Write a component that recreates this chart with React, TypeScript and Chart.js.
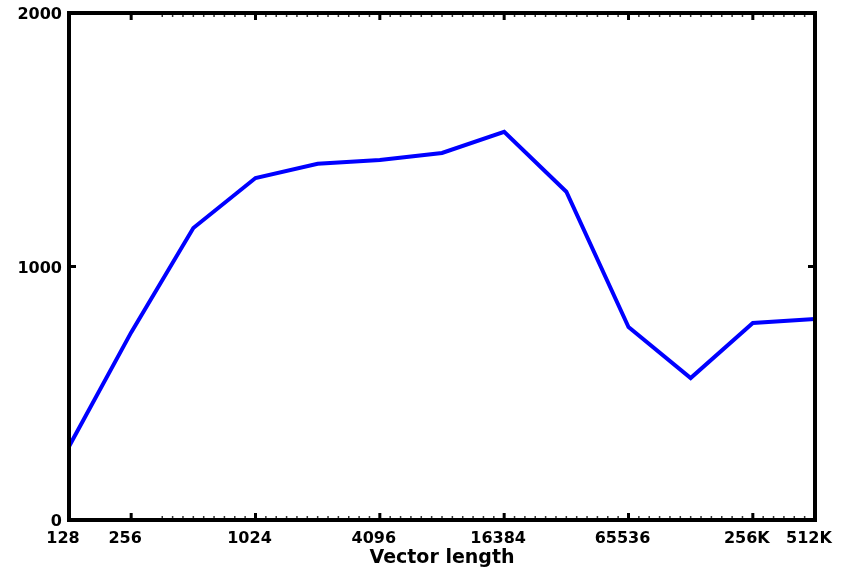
import React, { useEffect, useRef } from 'react';
import { Chart, registerables } from 'chart.js';

Chart.register(...registerables);

// Data
const sizes = [128, 256, 512, 1024, 2048, 4096, 8192, 16384, 32768, 65536, 131072, 262144, 524288];
const values = [290, 740, 1152, 1349, 1405, 1420, 1448, 1531, 1295, 761, 560, 777, 793];
const xTickValues = [128, 256, 1024, 4096, 16384, 65536, 262144, 524288];
const xTickLabels = ['128', '256', '1024', '4096', '16384', '65536', '256K', '512K'];
const yTickValues = [0, 1000, 2000];
const xTitle = 'Vector length';

const FONT = 'DejaVu Sans';

const boxPlugin = {
  id: 'matlabBox',
  afterDraw(chart: any) {
    const { ctx, chartArea } = chart;
    const { left, right, top, bottom } = chartArea;
    const x = chart.scales.x;
    const y = chart.scales.y;
    ctx.save();
    // minor ticks (small marks, both bottom and top)
    ctx.strokeStyle = '#333';
    ctx.lineWidth = 1.5;
    for (let e = 8.5; e < 18.95; e += 1 / 6) {
      const v = Math.pow(2, e);
      const near = xTickValues.some((t) => Math.abs(Math.log2(t) - e) < 0.12);
      if (near) continue;
      const px = x.getPixelForValue(v);
      ctx.beginPath();
      ctx.moveTo(px, bottom);
      ctx.lineTo(px, bottom - 4);
      ctx.moveTo(px, top);
      ctx.lineTo(px, top + 4);
      ctx.stroke();
    }
    // major ticks
    ctx.strokeStyle = '#000';
    ctx.lineWidth = 3;
    xTickValues.forEach((v) => {
      const px = x.getPixelForValue(v);
      ctx.beginPath();
      ctx.moveTo(px, bottom);
      ctx.lineTo(px, bottom - 7);
      ctx.moveTo(px, top);
      ctx.lineTo(px, top + 7);
      ctx.stroke();
    });
    yTickValues.forEach((v) => {
      const py = y.getPixelForValue(v);
      ctx.beginPath();
      ctx.moveTo(left, py);
      ctx.lineTo(left + 7, py);
      ctx.moveTo(right, py);
      ctx.lineTo(right - 7, py);
      ctx.stroke();
    });
    // box
    ctx.lineWidth = 4;
    ctx.strokeRect(left, top, right - left, bottom - top);
    ctx.restore();
  },
};

export default function App() {
  const ref = useRef<HTMLCanvasElement | null>(null);

  useEffect(() => {
    document.body.style.margin = '0';
    const canvas = ref.current;
    if (!canvas) return;
    const chart = new Chart(canvas, {
      type: 'line',
      data: {
        datasets: [
          {
            data: sizes.map((s, i) => ({ x: s, y: values[i] })),
            borderColor: '#0000ff',
            borderWidth: 4,
            pointRadius: 0,
            tension: 0,
            fill: false,
          },
        ],
      },
      options: {
        animation: false,
        responsive: false,
        devicePixelRatio: 1,
        layout: { padding: { top: 13, right: 28, left: 0, bottom: 0 } },
        plugins: {
          legend: { display: false },
          tooltip: { enabled: false },
        },
        scales: {
          x: {
            type: 'logarithmic',
            min: 128,
            max: 524288,
            grid: { display: false, drawTicks: false },
            border: { display: false },
            afterBuildTicks: (s: any) => {
              s.ticks = xTickValues.map((v) => ({ value: v }));
            },
            afterFit: (s: any) => {
              s.height = 49;
              s.paddingLeft = 0;
              s.paddingRight = 0;
              s.paddingTop = 0;
              s.paddingBottom = 0;
            },
            ticks: {
              autoSkip: false,
              maxRotation: 0,
              minRotation: 0,
              padding: 9,
              labelOffset: -6,
              color: '#000',
              font: { family: FONT, weight: 'bold', size: 16 },
              callback: (v: any) => {
                const i = xTickValues.indexOf(Number(v));
                return i >= 0 ? xTickLabels[i] : '';
              },
            },
            title: {
              display: true,
              text: xTitle,
              color: '#000',
              font: { family: FONT, weight: 'bold', size: 19 },
              padding: { top: 0, bottom: 0 },
            },
          },
          y: {
            type: 'linear',
            min: 0,
            max: 2000,
            grid: { display: false, drawTicks: false },
            border: { display: false },
            afterBuildTicks: (s: any) => {
              s.ticks = yTickValues.map((v) => ({ value: v }));
            },
            afterFit: (s: any) => {
              s.width = 69;
              s.paddingTop = 0;
              s.paddingBottom = 0;
            },
            ticks: {
              padding: 7,
              labelOffset: 2,
              color: '#000',
              font: { family: FONT, weight: 'bold', size: 16 },
              callback: (v: any) => String(v),
            },
          },
        },
      },
      plugins: [boxPlugin],
    } as any);
    return () => chart.destroy();
  }, []);

  return (
    <div style={{ width: 843, height: 569, background: '#fff' }}>
      <canvas ref={ref} width={843} height={569} style={{ display: 'block' }} />
    </div>
  );
}
